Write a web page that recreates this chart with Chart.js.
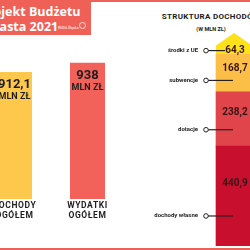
<!DOCTYPE html>
<html>
<head>
<meta charset="utf-8">
<title>Projekt Budżetu Miasta 2021</title>
<script src="https://cdn.jsdelivr.net/npm/chart.js@4.4.0/dist/chart.umd.min.js"></script>
<style>
  body { margin: 0; width: 250px; height: 250px; overflow: hidden; position: relative; background: #fff; font-family: Roboto, sans-serif; }
  .abs { position: absolute; }
  #banner { left: 0; top: 0; width: 91px; height: 35px; background: #ef6157; overflow: hidden; }
  #banner .t { position: absolute; left: -20px; color: #fff; font: bold 12.5px "Open Sans", sans-serif; white-space: nowrap; }
  #topline { left: 0; top: 0; width: 250px; height: 2px; background: #ef6157; }
  #botline { left: 0; top: 248px; width: 250px; height: 2px; background: #ef6157; }
  #title2 { left: 141px; width: 140px; text-align: center; top: 12px; font: bold 8px Roboto, sans-serif; letter-spacing: 0.3px; color: #1c1c1c; white-space: nowrap; }
  #sub2 { left: 171px; width: 80px; text-align: center; top: 26px; font: bold 5.5px Roboto, sans-serif; color: #1c1c1c; }
</style>
</head>
<body>
<div id="topline" class="abs"></div>
<div id="banner" class="abs">
  <div class="t" style="top:3px">Projekt Budżetu</div>
  <div class="t" style="top:18px;left:-16px">Miasta 2021</div>
  <div class="abs" style="left:58px;top:26px;font:bold 3.5px Roboto;color:#ffd9d5">RUDA Śląska</div>
  <div class="abs" style="left:79px;top:22px;width:5px;height:5px;border:1px solid #ffd9d5;border-radius:50%"></div>
</div>
<div id="title2" class="abs">STRUKTURA DOCHODÓW</div>
<div id="sub2" class="abs">(W MLN ZŁ)</div>
<div id="botline" class="abs"></div>

<div class="abs" style="left:-22px;top:40px;width:146px;height:189px"><canvas id="totals"></canvas></div>
<div class="abs" style="left:125px;top:20px;width:218px;height:226px"><canvas id="structure"></canvas></div>

<script>
// totals
var totalLabels = ['DOCHODY OGÓŁEM', 'WYDATKI OGÓŁEM'];
var totalValues = [912.1, 938];
var totalColors = ['#fec84d', '#f2625a'];

// income structure, bottom to top
var partLabels = ['dochody własne', 'dotacje', 'subwencje', 'środki z UE'];
var partValues = [440.9, 238.2, 168.7, 64.3];
var partColors = ['#c8102e', '#e0454b', '#fbbf47', '#fde21b'];

function fmt(v) { return String(v).replace('.', ','); }

var totalsLabelsPlugin = {
  id: 'totalsLabels',
  afterDatasetsDraw: function (chart) {
    var ctx = chart.ctx;
    var bars = chart.getDatasetMeta(0).data;
    ctx.save();
    ctx.fillStyle = '#1e1e1e';
    ctx.textAlign = 'center';
    ctx.textBaseline = 'middle';
    bars.forEach(function (bar, i) {
      ctx.font = 'bold 13px Roboto';
      ctx.fillText(fmt(totalValues[i]), bar.x, bar.y + 13);
      ctx.font = 'bold 9px Roboto';
      ctx.fillText('MLN ZŁ', bar.x, bar.y + 25);
      ctx.font = 'bold 8.5px Roboto';
      ctx.letterSpacing = '0.6px';
      var words = totalLabels[i].split(' ');
      words.forEach(function (w, j) {
        ctx.fillText(w, bar.x, chart.chartArea.bottom + 7 + j * 10);
      });
      ctx.letterSpacing = '0px';
    });
    ctx.restore();
  }
};

new Chart(document.getElementById('totals'), {
  type: 'bar',
  data: {
    labels: totalLabels,
    datasets: [{ data: totalValues, backgroundColor: totalColors, borderWidth: 0 }]
  },
  options: {
    responsive: true,
    maintainAspectRatio: false,
    animation: false,
    layout: { padding: { top: 0, bottom: 30, left: 0, right: 0 } },
    datasets: { bar: { barPercentage: 0.48, categoryPercentage: 1 } },
    plugins: { legend: { display: false }, tooltip: { enabled: false } },
    scales: {
      x: { display: false },
      y: { display: false, min: 550, max: 1003 }
    }
  },
  plugins: [totalsLabelsPlugin]
});

var structurePlugin = {
  id: 'structureLabels',
  afterDatasetsDraw: function (chart) {
    var ctx = chart.ctx;
    ctx.save();
    partValues.forEach(function (v, i) {
      var bar = chart.getDatasetMeta(i).data[0];
      var left = bar.x - bar.width / 2, right = bar.x + bar.width / 2;
      var top = bar.y, h = bar.base - bar.y;
      var valueY, leaderY;
      if (i === partValues.length - 1) {
        // top segment drawn as an arrow
        var shoulder = top + h * 0.45;
        ctx.fillStyle = partColors[i];
        ctx.beginPath();
        ctx.moveTo(left, bar.base);
        ctx.lineTo(left, shoulder);
        ctx.lineTo(bar.x, top - 6);
        ctx.lineTo(right, shoulder);
        ctx.lineTo(right, bar.base);
        ctx.closePath();
        ctx.fill();
        valueY = shoulder + (bar.base - shoulder) / 2 + 1;
        leaderY = valueY;
      } else {
        valueY = top + h * 0.38;
        leaderY = top + h * 0.7;
      }
      // leader
      var cx = left - 10;
      var lineEnd = i === partValues.length - 1 ? left + 9 : bar.x - 1;
      ctx.strokeStyle = '#2a2222';
      ctx.lineWidth = 1.2;
      ctx.beginPath();
      ctx.moveTo(cx, leaderY);
      ctx.lineTo(lineEnd, leaderY);
      ctx.stroke();
      ctx.fillStyle = '#fff';
      ctx.lineWidth = 1;
      ctx.beginPath();
      ctx.arc(cx, leaderY, 2.3, 0, Math.PI * 2);
      ctx.fill();
      ctx.stroke();
      ctx.fillStyle = '#1e1e1e';
      ctx.font = 'bold 6px Roboto';
      ctx.textAlign = 'right';
      ctx.textBaseline = 'middle';
      ctx.fillText(partLabels[i], cx - 8, leaderY);
      // value
      ctx.fillStyle = '#3a1414';
      ctx.font = 'bold 10px Roboto';
      ctx.textAlign = 'center';
      ctx.fillText(fmt(v), bar.x + 1, valueY);
    });
    ctx.restore();
  }
};

new Chart(document.getElementById('structure'), {
  type: 'bar',
  data: {
    labels: ['dochody'],
    datasets: partValues.map(function (v, i) {
      return {
        label: partLabels[i],
        data: [v],
        backgroundColor: i === partValues.length - 1 ? 'rgba(0,0,0,0)' : partColors[i],
        borderWidth: 0,
        barThickness: 36
      };
    })
  },
  options: {
    responsive: true,
    maintainAspectRatio: false,
    animation: false,
    layout: { padding: 0 },
    plugins: { legend: { display: false }, tooltip: { enabled: false } },
    scales: {
      x: { display: false, stacked: true },
      y: { display: false, stacked: true, min: 0, max: 996 }
    }
  },
  plugins: [structurePlugin]
});
</script>
</body>
</html>
